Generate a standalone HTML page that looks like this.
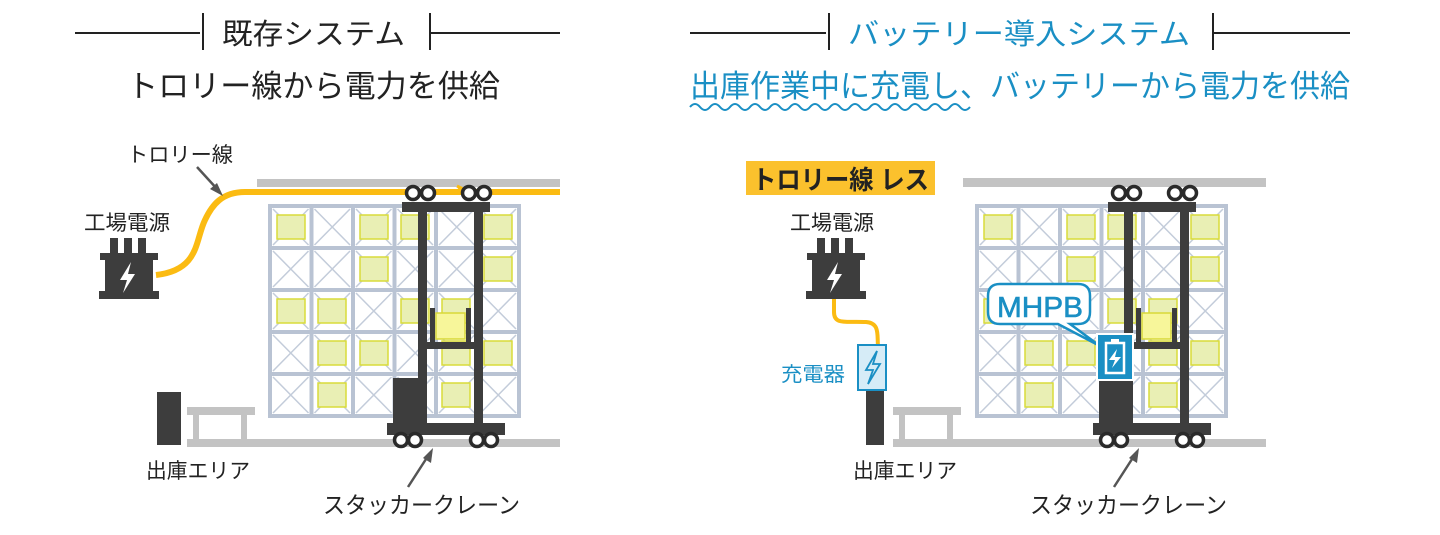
<!DOCTYPE html>
<html><head><meta charset="utf-8"><style>
html,body{margin:0;padding:0;background:#fff;width:1440px;height:535px;overflow:hidden}
svg{display:block}
text{font-family:"Liberation Sans","Noto Sans CJK JP",sans-serif}
</style></head><body>
<svg width="1440" height="535" viewBox="0 0 1440 535" xmlns="http://www.w3.org/2000/svg">
<defs>
<g id="cell">
<rect x="0" y="0" width="41.5" height="42" fill="#fff" stroke="#b9c3d3" stroke-width="4"/>
<path d="M3 3L38.5 39M38.5 3L3 39" stroke="#c3ccda" stroke-width="1.5"/>
</g>
<g id="rack">
<use href="#cell" x="0" y="0"/><use href="#cell" x="41.5" y="0"/><use href="#cell" x="83" y="0"/><use href="#cell" x="124.5" y="0"/><use href="#cell" x="166" y="0"/><use href="#cell" x="207.5" y="0"/>
<use href="#cell" x="0" y="42"/><use href="#cell" x="41.5" y="42"/><use href="#cell" x="83" y="42"/><use href="#cell" x="124.5" y="42"/><use href="#cell" x="166" y="42"/><use href="#cell" x="207.5" y="42"/>
<use href="#cell" x="0" y="84"/><use href="#cell" x="41.5" y="84"/><use href="#cell" x="83" y="84"/><use href="#cell" x="124.5" y="84"/><use href="#cell" x="166" y="84"/><use href="#cell" x="207.5" y="84"/>
<use href="#cell" x="0" y="126"/><use href="#cell" x="41.5" y="126"/><use href="#cell" x="83" y="126"/><use href="#cell" x="124.5" y="126"/><use href="#cell" x="166" y="126"/><use href="#cell" x="207.5" y="126"/>
<use href="#cell" x="0" y="168"/><use href="#cell" x="41.5" y="168"/><use href="#cell" x="83" y="168"/><use href="#cell" x="124.5" y="168"/><use href="#cell" x="166" y="168"/><use href="#cell" x="207.5" y="168"/>
</g>
<rect id="box" width="28" height="24" fill="#e9efb4" stroke="#d9dc3a" stroke-width="1.5"/>
<g id="wheel"><circle r="6.5" fill="#fff" stroke="#2a2a2a" stroke-width="3.5"/></g>
<g id="crane">
<rect x="393" y="378" width="25" height="48" fill="#3d3d3d"/>
<rect x="402" y="202" width="88" height="10" fill="#3d3d3d"/>
<rect x="418" y="210" width="9" height="215" fill="#3d3d3d"/>
<rect x="474" y="210" width="9" height="215" fill="#3d3d3d"/>
<rect x="430" y="308" width="5" height="40" fill="#3d3d3d"/>
<rect x="466" y="308" width="5" height="40" fill="#3d3d3d"/>
<rect x="427" y="342" width="47" height="7" fill="#3d3d3d"/>
<rect x="436" y="313" width="29" height="26" fill="#f7f69a" stroke="#d9d838" stroke-width="1.5"/>
<rect x="387" y="423" width="118" height="12" fill="#3d3d3d"/>
<use href="#wheel" x="413" y="193"/><use href="#wheel" x="428" y="193"/><use href="#wheel" x="469" y="193"/><use href="#wheel" x="484" y="193"/>
<use href="#wheel" x="401" y="440"/><use href="#wheel" x="415" y="440"/><use href="#wheel" x="477" y="440"/><use href="#wheel" x="491" y="440"/>
</g>
<g id="power">
<rect x="110" y="238" width="8" height="17" fill="#3d3d3d"/><rect x="124" y="238" width="8" height="17" fill="#3d3d3d"/><rect x="138" y="238" width="8" height="17" fill="#3d3d3d"/>
<rect x="100" y="253" width="58" height="7" fill="#3d3d3d"/>
<rect x="105" y="258" width="48" height="35" fill="#3d3d3d"/>
<rect x="99" y="291" width="60" height="8" fill="#3d3d3d"/>
<path d="M131 262L120 280H127L123 293L135 274H128Z" fill="#fff"/>
</g>
<g id="rail">
<rect x="187" y="407" width="68" height="8" fill="#c3c3c3"/>
<rect x="193" y="413" width="6" height="28" fill="#c3c3c3"/>
<rect x="241" y="413" width="6" height="28" fill="#c3c3c3"/>
</g>
</defs>

<!-- headers -->
<g stroke="#222" stroke-width="2">
<line x1="75" y1="33" x2="200" y2="33"/><line x1="203" y1="13" x2="203" y2="50"/>
<line x1="430" y1="13" x2="430" y2="50"/><line x1="430" y1="33" x2="560" y2="33"/>
<line x1="690" y1="33" x2="826" y2="33"/><line x1="829" y1="13" x2="829" y2="50"/>
<line x1="1213" y1="13" x2="1213" y2="50"/><line x1="1213" y1="33" x2="1350" y2="33"/>
</g>
<text x="222" y="44" font-size="29" fill="#222" textLength="183" lengthAdjust="spacingAndGlyphs">既存システム</text>
<text x="848" y="44" font-size="29" fill="#1a8fc4" textLength="342" lengthAdjust="spacingAndGlyphs">バッテリー導入システム</text>
<text x="127" y="97" font-size="31" fill="#222" textLength="373" lengthAdjust="spacingAndGlyphs">トロリー線から電力を供給</text>
<text x="690" y="97" font-size="31" fill="#1a8fc4" textLength="660" lengthAdjust="spacingAndGlyphs">出庫作業中に充電し、バッテリーから電力を供給</text>
<path d="M690 107q5 -6 10 0t10 0t10 0t10 0t10 0t10 0t10 0t10 0t10 0t10 0t10 0t10 0t10 0t10 0t10 0t10 0t10 0t10 0t10 0t10 0t10 0t10 0t10 0t10 0t10 0t10 0t10 0t10 0" fill="none" stroke="#1a8fc4" stroke-width="2"/>

<!-- LEFT -->
<rect x="257" y="179" width="303" height="8" fill="#c3c3c3"/>
<rect x="187" y="439" width="373" height="8" fill="#c3c3c3"/>
<use href="#rail"/>
<rect x="157" y="392" width="24" height="53" fill="#3d3d3d"/>
<g transform="translate(270,206)"><use href="#rack"/>
<use href="#box" x="7" y="9"/><use href="#box" x="90" y="9"/><use href="#box" x="131" y="9"/><use href="#box" x="214" y="9"/>
<use href="#box" x="90" y="51"/><use href="#box" x="214" y="51"/>
<use href="#box" x="7" y="93"/><use href="#box" x="48" y="93"/><use href="#box" x="131" y="93"/><use href="#box" x="172" y="93"/>
<use href="#box" x="48" y="135"/><use href="#box" x="90" y="135"/><use href="#box" x="172" y="135"/><use href="#box" x="214" y="135"/>
<use href="#box" x="48" y="177"/><use href="#box" x="172" y="177"/>
</g>
<path d="M156 275C200 270 195 240 205 220C212 205 222 192 245 192H560" fill="none" stroke="#fbbb12" stroke-width="6"/>
<path d="M455 193l6 -5l-4 -2" fill="none" stroke="#fbbb12" stroke-width="3"/>
<use href="#crane"/>
<use href="#power"/>
<text x="127" y="162" font-size="21" fill="#222" textLength="106" lengthAdjust="spacingAndGlyphs">トロリー線</text>
<path d="M197 167L218 190" stroke="#555" stroke-width="2.5"/><path d="M223 196L210 189L217 183Z" fill="#555"/>
<text x="84" y="230" font-size="21" fill="#222" textLength="86" lengthAdjust="spacingAndGlyphs">工場電源</text>
<text x="146" y="478" font-size="21" fill="#222" textLength="104" lengthAdjust="spacingAndGlyphs">出庫エリア</text>
<text x="323" y="513" font-size="23" fill="#222" textLength="197" lengthAdjust="spacingAndGlyphs">スタッカークレーン</text>
<path d="M408 487L428 456" stroke="#555" stroke-width="2.5"/><path d="M433 448L431 463L423 458Z" fill="#555"/>

<!-- RIGHT -->
<rect x="963" y="178" width="303" height="9" fill="#c3c3c3"/>
<rect x="893" y="439" width="373" height="8" fill="#c3c3c3"/>
<use href="#rail" x="706"/>
<g transform="translate(977,206)"><use href="#rack"/>
<use href="#box" x="7" y="9"/><use href="#box" x="90" y="9"/><use href="#box" x="131" y="9"/><use href="#box" x="214" y="9"/>
<use href="#box" x="90" y="51"/><use href="#box" x="214" y="51"/>
<use href="#box" x="7" y="93"/><use href="#box" x="131" y="93"/><use href="#box" x="172" y="93"/>
<use href="#box" x="48" y="135"/><use href="#box" x="90" y="135"/><use href="#box" x="172" y="135"/><use href="#box" x="214" y="135"/>
<use href="#box" x="48" y="177"/><use href="#box" x="172" y="177"/>
</g>
<use href="#crane" x="706"/>
<use href="#power" x="707"/>
<path d="M834 299V312C834 325 845 321 866 322C880 323 877 335 878 346" fill="none" stroke="#fbbb12" stroke-width="4"/>
<rect x="866" y="390" width="18" height="55" fill="#3d3d3d"/>
<rect x="858" y="345" width="28" height="45" fill="#d6ecf7" stroke="#1a8fc4" stroke-width="2"/>
<path d="M877 351L866 370H873L868 384L880 364H873Z" fill="none" stroke="#1a8fc4" stroke-width="1.8"/>
<text x="781" y="381" font-size="20" fill="#1a8fc4" textLength="64" lengthAdjust="spacingAndGlyphs">充電器</text>
<text x="790" y="230" font-size="21" fill="#222" textLength="84" lengthAdjust="spacingAndGlyphs">工場電源</text>
<rect x="746" y="161" width="189" height="34" fill="#fbc12d"/>
<text x="752" y="189" font-size="26" font-weight="bold" fill="#222" textLength="177" lengthAdjust="spacingAndGlyphs">トロリー線 レス</text>
<!-- bubble -->
<path d="M1000 284H1078Q1090 284 1090 296V312Q1090 324 1078 324H1070L1100 346L1058 324H1000Q988 324 988 312V296Q988 284 1000 284Z" fill="#fff" stroke="#1a8fc4" stroke-width="2.5"/>
<text x="997" y="317" font-size="29" fill="#1a8fc4" textLength="86" lengthAdjust="spacingAndGlyphs" stroke="#1a8fc4" stroke-width="0.6">MHPB</text>
<rect x="1097" y="334" width="36" height="46" fill="#1a8fc4" stroke="#fff" stroke-width="2"/>
<rect x="1106" y="343" width="18" height="30" fill="none" stroke="#fff" stroke-width="2.5"/>
<rect x="1111" y="339" width="8" height="4" fill="#fff"/>
<path d="M1117 349L1109 360H1115L1112 368L1121 357H1115Z" fill="#fff"/>
<text x="853" y="478" font-size="21" fill="#222" textLength="104" lengthAdjust="spacingAndGlyphs">出庫エリア</text>
<text x="1030" y="513" font-size="23" fill="#222" textLength="197" lengthAdjust="spacingAndGlyphs">スタッカークレーン</text>
<path d="M1114 487L1134 456" stroke="#555" stroke-width="2.5"/><path d="M1139 448L1137 463L1129 458Z" fill="#555"/>
</svg>
</body></html>
